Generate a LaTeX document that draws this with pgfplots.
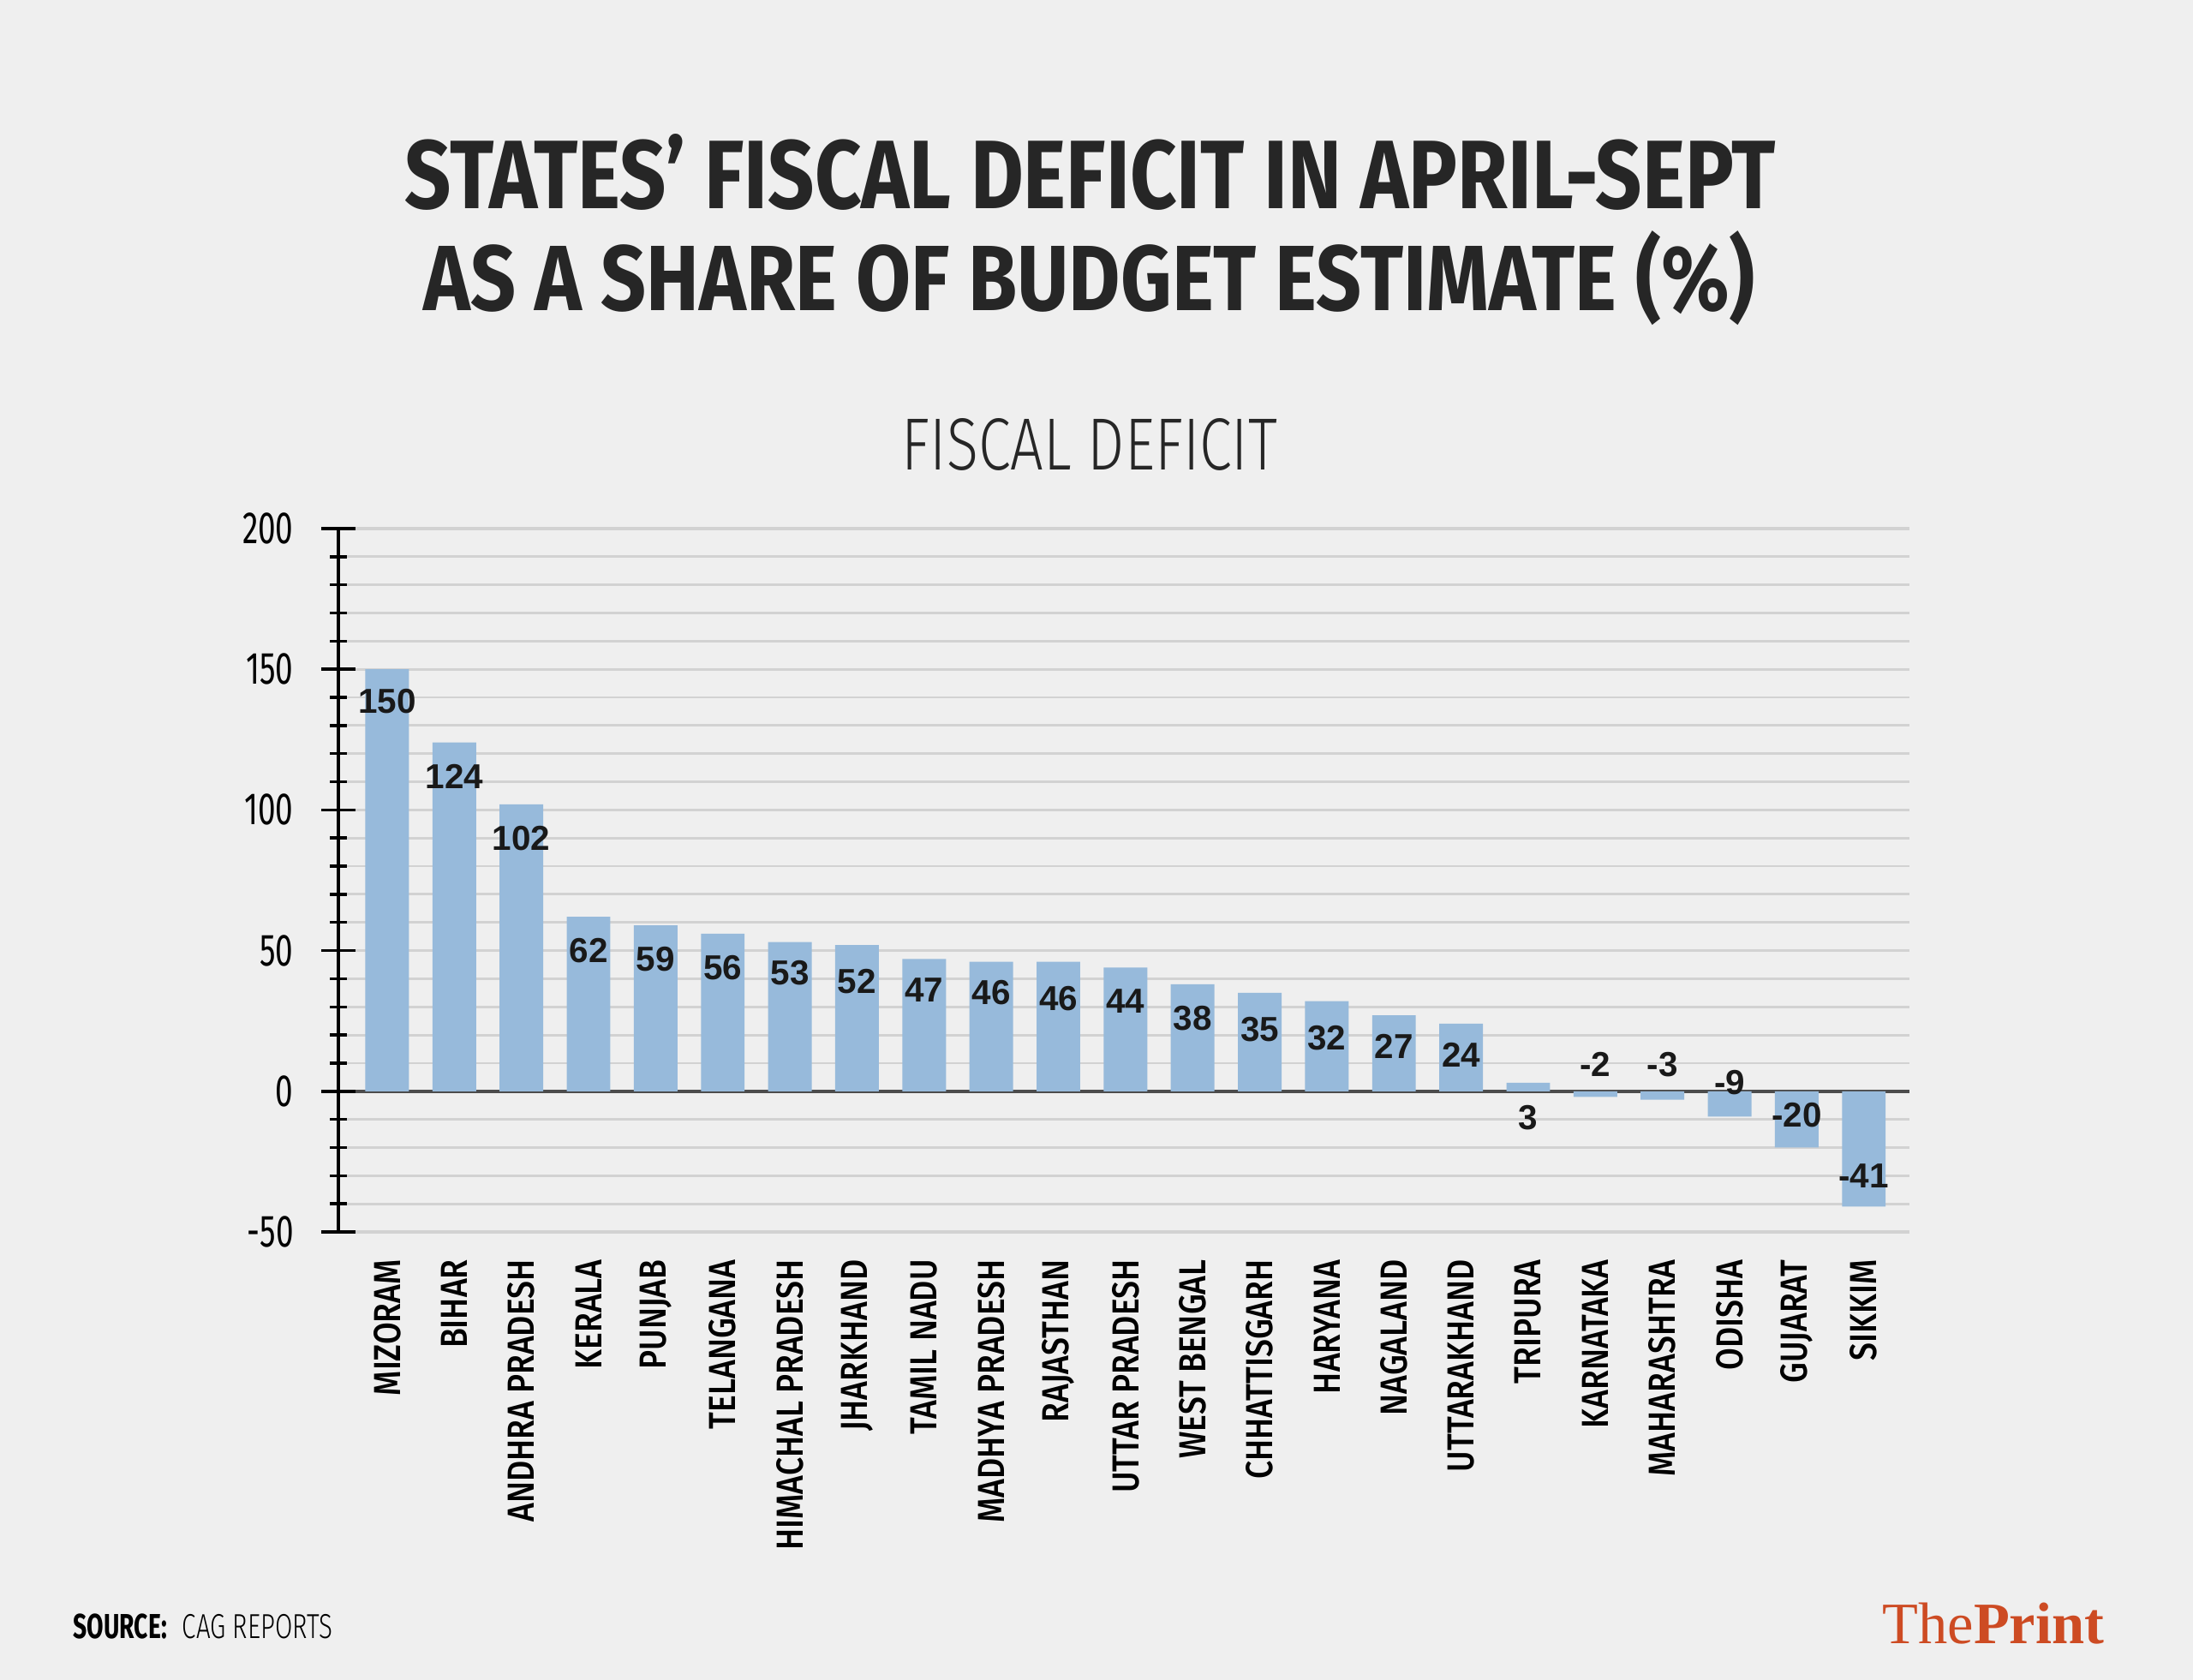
\documentclass[border=0pt]{standalone}
\usepackage{pgfplots}
\pgfplotsset{compat=1.18}
\usepackage{fontspec}
\setmainfont{Fira Sans}
\newfontfamily\firalight{Fira Sans Light}
\newfontfamily\condlight[FakeStretch=0.73]{Fira Sans Light}
\newfontfamily\condreg[FakeStretch=0.7]{Fira Sans}
\newfontfamily\condmed[FakeStretch=0.85]{Fira Sans Medium}
\newfontfamily\condbold[FakeStretch=0.7]{Fira Sans}
\newfontfamily\labelfont{Liberation Sans}
\newfontfamily\printfont{Liberation Serif}
\definecolor{bg}{RGB}{239,239,239}
\definecolor{barblue}{RGB}{151,186,219}
\definecolor{titlecol}{RGB}{38,38,38}
\definecolor{gridcol}{RGB}{210,210,210}
\definecolor{printred}{RGB}{205,75,35}

\pgfplotstableread{
x  v    ly    lab
0  150  138.7 150
1  124  112   124
2  102  90    102
3  62   50    62
4  59   47    59
5  56   44    56
6  53   42    53
7  52   39    52
8  47   36    47
9  46   35    46
10 46   33    46
11 44   32    44
12 38   26    38
13 35   22    35
14 32   19    32
15 27   16    27
16 24   13    24
17 3    -9.5  3
18 -2   9.5   -2
19 -3   9.5   -3
20 -9   3     -9
21 -20  -8.5  -20
22 -41  -30   -41
}\datatable

\begin{document}
\begin{tikzpicture}[x=1cm,y=1cm]
\fill[bg] (0,0) rectangle (25.6,19.61);
\useasboundingbox (0,0) rectangle (25.6,19.61);
\node[titlecol] at (12.73,17.60) {\resizebox{16cm}{0.87cm}{\bfseries STATES’ FISCAL DEFICIT IN APRIL-SEPT}};
\node[titlecol] at (12.72,16.36) {\resizebox{15.54cm}{0.93cm}{\bfseries AS A SHARE OF BUDGET ESTIMATE (\%)}};
\node[titlecol] at (12.72,14.42) {\resizebox{4.38cm}{0.6cm}{\firalight FISCAL DEFICIT}};
\begin{axis}[
  at={(3.95cm,5.23cm)}, anchor=south west,
  scale only axis, width=18.34cm, height=8.21cm,
  xmin=-0.727, xmax=22.68, ymin=-50, ymax=200,
  axis x line*=bottom, axis y line*=left,
  x axis line style={draw=none},
  y axis line style={-, black, line width=1.1pt},
  ytick={-50,0,50,100,150,200},
  minor y tick num=4,
  ymajorgrids, yminorgrids,
  major grid style={draw=gridcol, line width=0.9pt},
  minor grid style={draw=gridcol, line width=0.8pt},
  tick align=center,
  major tick length=0.4cm, minor tick length=0.2cm,
  ytick style={black, line width=1pt},
  xtick style={draw=none},
  extra y ticks={0}, extra y tick labels={},
  extra y tick style={major grid style={draw=black!70, line width=1.2pt}},
  /pgf/number format/assume math mode=true,
  yticklabel style={font=\condreg\fontsize{15}{18}\selectfont, xshift=-0.2cm},
  xtick={0,...,22},
  xticklabels={MIZORAM,BIHAR,ANDHRA PRADESH,KERALA,PUNJAB,TELANGANA,HIMACHAL PRADESH,JHARKHAND,TAMIL NADU,MADHYA PRADESH,RAJASTHAN,UTTAR PRADESH,WEST BENGAL,CHHATTISGARH,HARYANA,NAGALAND,UTTARAKHAND,TRIPURA,KARNATAKA,MAHARASHTRA,ODISHA,GUJARAT,SIKKIM},
  xticklabel style={rotate=90, anchor=east, font=\condmed\fontsize{12.5}{14}\selectfont, black},
  clip=false,
]
\addplot[ybar, bar width=0.65, fill=barblue, draw=none] table[x=x, y=v] {\datatable};
\addplot[draw=none, mark=none, nodes near coords, point meta=explicit symbolic,
  every node near coord/.append style={anchor=center, font=\labelfont\bfseries\fontsize{11.5}{13}\selectfont, text=black!90}]
  table[x=x, y=ly, meta=lab] {\datatable};
\end{axis}
\node[anchor=west, inner sep=0] at (0.85,0.62) {\condbold\bfseries\fontsize{11.5}{13}\selectfont SOURCE:\hspace{0.18cm}\condlight\mdseries CAG REPORTS};
\node[anchor=east, inner sep=0, printred] at (24.57,0.66) {\printfont\fontsize{19.5}{22}\selectfont The\textbf{Print}};
\end{tikzpicture}
\end{document}
